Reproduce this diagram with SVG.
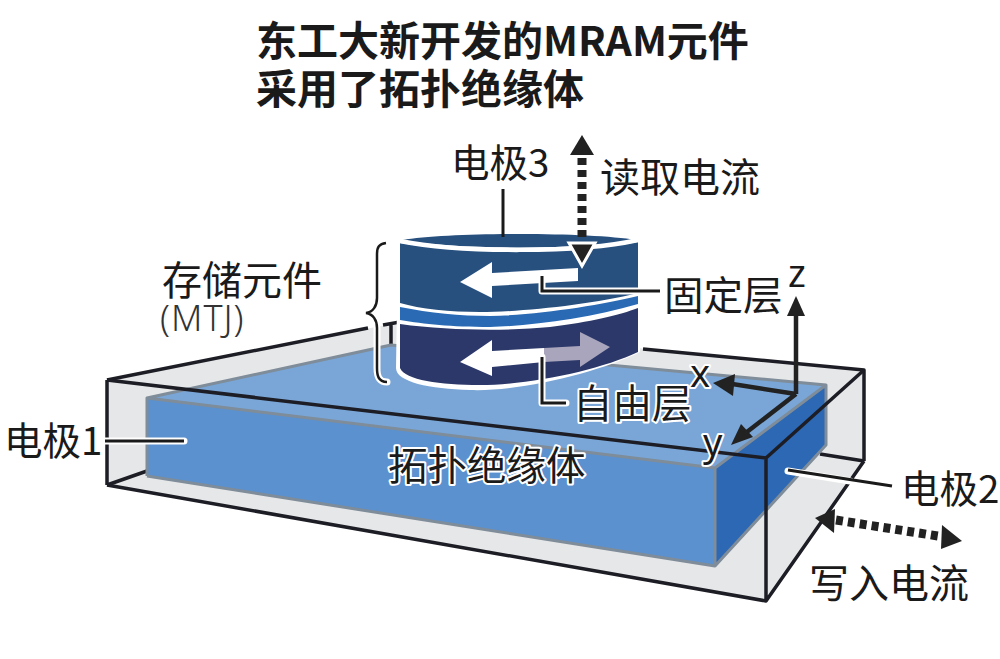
<svg xmlns="http://www.w3.org/2000/svg" width="1000" height="659" viewBox="0 0 1000 659">
<style>
text{font-family:"Noto Sans CJK SC","Noto Sans",sans-serif;fill:#1a1a1a}
.t{font-size:40px}
.n{font-size:38.5px}
.b{font-size:41px;font-weight:700}
.s{font-family:"Noto Sans",sans-serif;font-size:38px}
.h{paint-order:stroke;stroke:#fff;stroke-width:4px;stroke-linejoin:round}
.e{fill:none;stroke:#1d1d26;stroke-width:3.5px;stroke-linejoin:round}
.l{fill:none;stroke:#1a1a1a;stroke-width:3px}
.w{fill:none;stroke:#fff;stroke-width:7px;stroke-linejoin:round;stroke-linecap:round}
.d{fill:none;stroke:#222;stroke-width:9px;stroke-dasharray:7 5}
.a{fill:#222}
.ax{fill:none;stroke:#222;stroke-width:4.5px}
.rim{fill:none;stroke:#fff;stroke-width:4.5px}
</style>
<rect width="1000" height="659" fill="#fff"/>
<g id="electrode1-box">
<polygon points="107,380 391,324 864,370 864,461 766,601 107,485" fill="#e6e7e8"/>
<path class="e" d="M107,380L368,328M383,325L400,322M391,325V347M643,349L864,370V461M820,454L864,461M107,380V485M107,485L147,471"/>
</g>
<g id="topological-insulator">
<polygon points="147,398 391,345 826,385 715,468" fill="#79a6d6"/>
<polygon points="147,398 715,468 715,566 147,476" fill="#5b91cf"/>
<polygon points="715,468 826,385 826,445 715,566" fill="#2c68b4"/>
<path fill="none" stroke="#7f8c99" stroke-width="3" stroke-linejoin="round" d="M147,476V398L391,345L826,385V445L715,566L147,476M147,398L715,468L826,385M715,468V566"/>
</g>
<g id="electrode-box-front">
<path class="e" d="M107,380L766,458L864,370M766,458V601M107,485L766,601L864,461"/>
</g>
<g id="mtj-pillar">
<path d="M398,240C440,232 600,232 640,240L640,352C600,372 520,392 470,390C430,389 396,382 396,368Z" fill="#fff"/>
<path d="M402,240C450,232 590,232 636,240C590,250 450,250 402,240Z" fill="#27507f"/>
<path d="M400,243C460,253 580,253 638,242V293C590,305 520,312 480,312C450,312 420,309 400,303Z" fill="#27507f"/>
<path d="M400,307C430,313 460,316 490,316C540,315 600,305 638,296V304C590,318 530,326 490,327C450,327 425,324 400,320Z" fill="#2a6ab5"/>
<path d="M400,324C450,331 510,331 550,327C590,322 620,315 638,308V352C600,370 530,385 480,385C440,385 405,380 400,368Z" fill="#2b3869"/>
<path class="rim" d="M400,241C460,253 580,253 638,240"/>
<path d="M460,282L492,262V273L578,268V281L492,286V298Z" fill="#fff"/>
<path d="M544,348L580,346V332L610,347L580,367V360L544,362Z" fill="#a9a5bc"/>
<path d="M460,362L492,340V351L544,348V362L492,367V376Z" fill="#fff"/>
</g>
<g id="connectors">
<path class="w" d="M105,441H184"/>
<path class="l" d="M105,441H184"/>
<path class="l" d="M503,189V237"/>
<path class="w" d="M542,276V291H660"/>
<path class="l" d="M542,276V291H660"/>
<path class="w" d="M542,357V403H566"/>
<path class="l" d="M542,357V403H566"/>
<path class="w" d="M788,471L850,481"/>
<path class="l" d="M788,470L892,486"/>
<path class="w" d="M387,382C378,382 377,375 377,368V328C377,320 373,314 366,313C373,312 377,306 377,298V254C377,247 379,244 386,243"/>
<path fill="none" stroke="#1a1a1a" stroke-width="2.5" d="M387,382C378,382 377,375 377,368V328C377,320 373,314 366,313C373,312 377,306 377,298V254C377,247 379,244 386,243"/>
<path class="d" d="M582,158V242"/>
<polygon class="a" points="582,135 594,155 570,155"/>
<polygon class="a" points="582,266 569,243 595,243" stroke="#fff" stroke-width="3"/>
<path class="d" d="M836,520L944,537"/>
<polygon class="a" points="815,518 835,509 834,533"/>
<polygon class="a" points="962,541 942,525 941,549"/>
<path class="ax" d="M796,394V312M796,394L726,383M796,394L743,435"/>
<polygon class="a" points="796,296 787,316 805,316"/>
<polygon class="a" points="713,383 735,374 733,396"/>
<polygon class="a" points="731,445 741,424 753,437"/>
</g>
<g id="labels">
<text class="b" x="256" y="56">东工大新开发的MRAM元件</text>
<text class="b" x="256" y="104">采用了拓扑绝缘体</text>
<text class="n" x="451" y="177">电极3</text>
<text class="t" x="600" y="192">读取电流</text>
<text class="t" x="162" y="295">存储元件</text>
<text x="160" y="331" style="font-family:'Noto Sans',sans-serif;font-size:36px;fill:#333;letter-spacing:1px;font-weight:300">(MTJ)</text>
<text class="t" x="664" y="310" style="font-size:39.5px">固定层</text>
<text class="t h" x="573" y="418" style="font-size:39.5px">自由层</text>
<text class="t h" x="388" y="480" style="font-size:39.5px">拓扑绝缘体</text>
<text class="n" x="4" y="455">电极1</text>
<text class="n" x="901" y="503">电极2</text>
<text class="t" x="809" y="598">写入电流</text>
<text class="s" x="788" y="287">z</text>
<text class="s h" x="690" y="387">x</text>
<text class="s h" x="703" y="456">y</text>
</g>
</svg>
